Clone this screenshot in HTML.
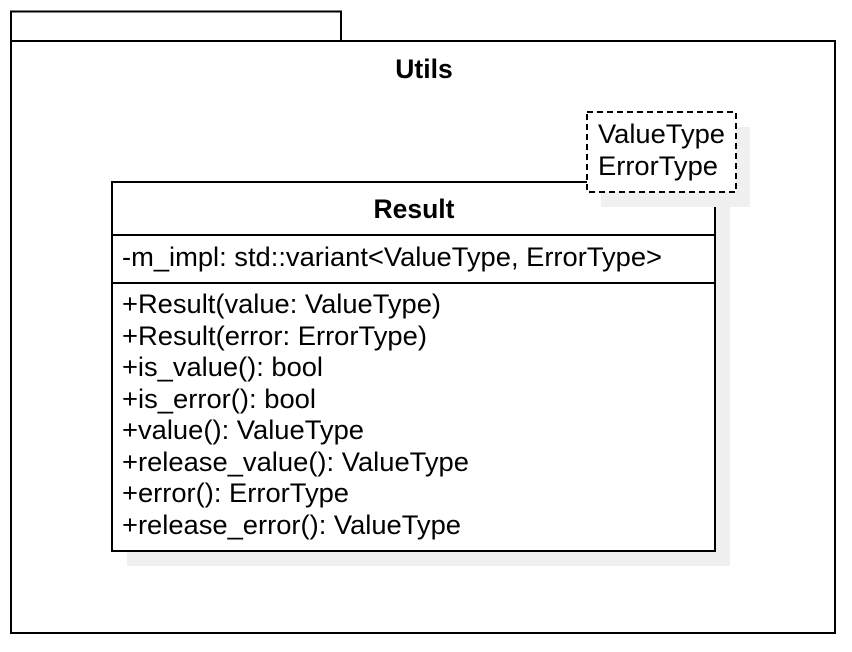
<!DOCTYPE html>
<html><head><meta charset="utf-8"><style>html,body{margin:0;padding:0;background:#fff}</style></head>
<body>
<svg width="852" height="647" xmlns="http://www.w3.org/2000/svg" font-family="Liberation Sans, sans-serif">
<rect width="852" height="647" fill="#fff"/>
<rect x="11" y="11.5" width="330" height="30" fill="#fff" stroke="#000" stroke-width="2"/>
<rect x="11" y="41" width="824" height="592" fill="#fff" stroke="#000" stroke-width="2"/>
<text x="424" y="78" font-size="26.5" font-weight="bold" text-anchor="middle">Utils</text>
<rect x="127" y="197" width="603" height="369" fill="#f0f0f0"/>
<rect x="112" y="182" width="603" height="369" fill="#fff" stroke="#000" stroke-width="2"/>
<line x1="112" y1="235" x2="715" y2="235" stroke="#000" stroke-width="2"/>
<line x1="112" y1="283" x2="715" y2="283" stroke="#000" stroke-width="2"/>
<text x="414" y="218" font-size="26.5" font-weight="bold" text-anchor="middle">Result</text>
<g font-size="26.5" lengthAdjust="spacingAndGlyphs">
<text x="122" y="266" textLength="540" lengthAdjust="spacingAndGlyphs">-m_impl: std::variant&lt;ValueType, ErrorType&gt;</text>
<text x="122" y="313" textLength="319" lengthAdjust="spacingAndGlyphs">+Result(value: ValueType)</text>
<text x="122" y="345" textLength="305" lengthAdjust="spacingAndGlyphs">+Result(error: ErrorType)</text>
<text x="122" y="376" textLength="201" lengthAdjust="spacingAndGlyphs">+is_value(): bool</text>
<text x="122" y="408" textLength="194" lengthAdjust="spacingAndGlyphs">+is_error(): bool</text>
<text x="122" y="439" textLength="242" lengthAdjust="spacingAndGlyphs">+value(): ValueType</text>
<text x="122" y="471" textLength="347" lengthAdjust="spacingAndGlyphs">+release_value(): ValueType</text>
<text x="122" y="502" textLength="227" lengthAdjust="spacingAndGlyphs">+error(): ErrorType</text>
<text x="122" y="534" textLength="339" lengthAdjust="spacingAndGlyphs">+release_error(): ValueType</text>
</g>
<rect x="601" y="127" width="149" height="80" fill="#f0f0f0"/>
<rect x="587" y="112" width="149" height="80" fill="#fff" stroke="#000" stroke-width="2" stroke-dasharray="6,4"/>
<text x="598" y="143" font-size="26.5" textLength="127" lengthAdjust="spacingAndGlyphs">ValueType</text>
<text x="598" y="175" font-size="26.5" textLength="120" lengthAdjust="spacingAndGlyphs">ErrorType</text>
</svg>
</body></html>
